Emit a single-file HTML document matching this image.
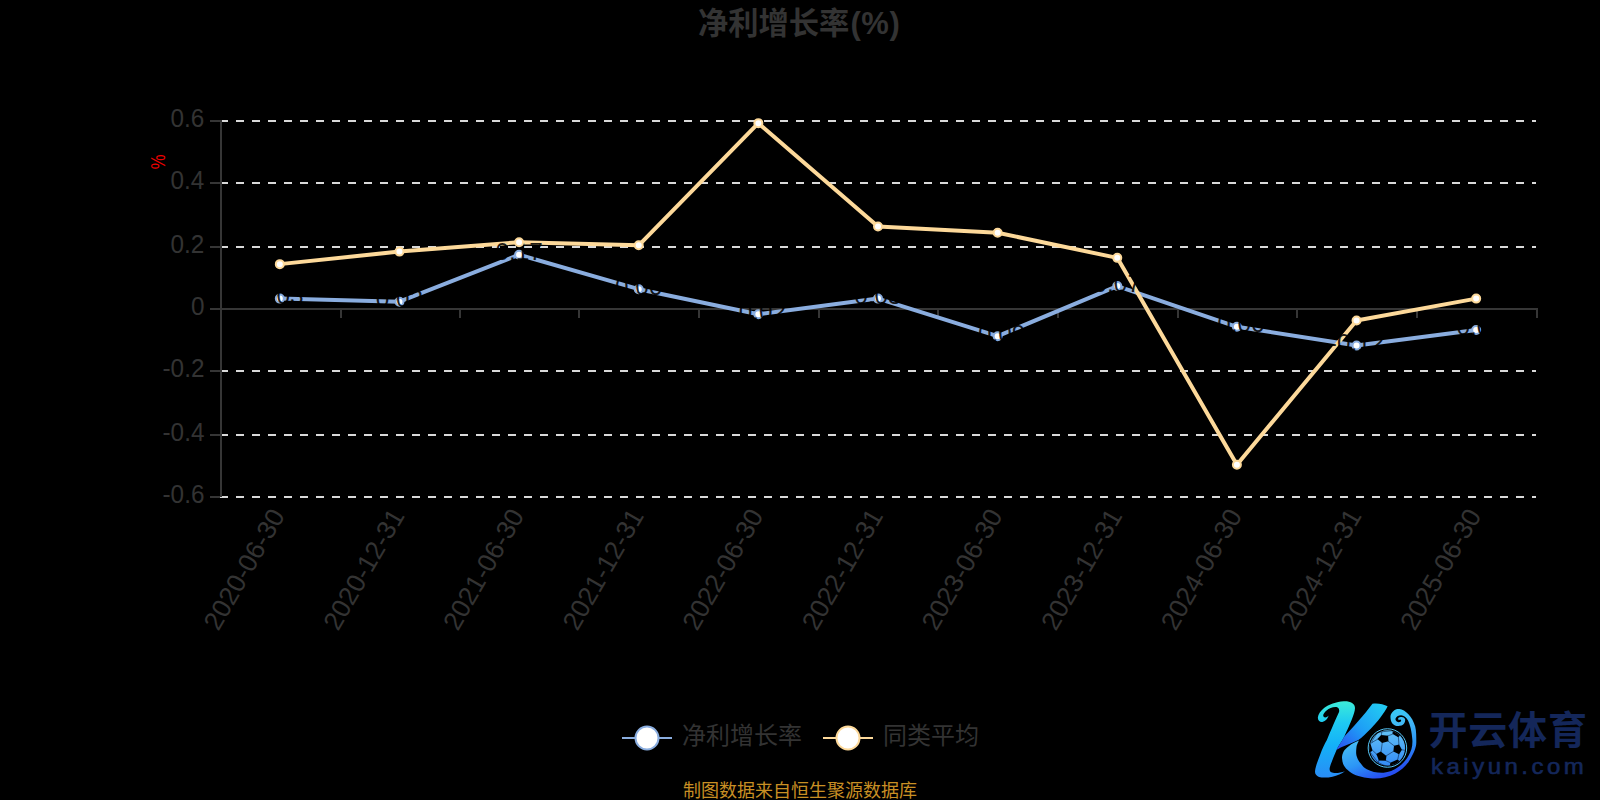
<!DOCTYPE html>
<html lang="zh-CN"><head><meta charset="utf-8"><title>净利增长率(%)</title>
<style>
html,body{margin:0;padding:0;background:#000;}
body{width:1600px;height:800px;overflow:hidden;}
svg{display:block;}
text{font-family:"Liberation Sans","Noto Sans CJK SC",sans-serif;}
</style></head><body>
<svg width="1600" height="800" viewBox="0 0 1600 800">
<rect width="1600" height="800" fill="#000"/>

<text x="799.2" y="33.7" text-anchor="middle" font-size="30.3" font-weight="bold" fill="#333333">净利增长率<tspan font-size="31" dx="1" letter-spacing="0.6">(%)</tspan></text>
<line x1="220" y1="121.00" x2="1536" y2="121.00" stroke="#d9d9d9" stroke-width="2" stroke-dasharray="8 8"/>
<line x1="210" y1="121.00" x2="220" y2="121.00" stroke="#363636" stroke-width="2"/>
<text transform="translate(204.4,127.00) scale(0.98,1.07)" text-anchor="end" font-size="24.8" fill="#333333">0.6</text>
<line x1="220" y1="183.00" x2="1536" y2="183.00" stroke="#d9d9d9" stroke-width="2" stroke-dasharray="8 8"/>
<line x1="210" y1="183.00" x2="220" y2="183.00" stroke="#363636" stroke-width="2"/>
<text transform="translate(204.4,189.00) scale(0.98,1.07)" text-anchor="end" font-size="24.8" fill="#333333">0.4</text>
<line x1="220" y1="247.00" x2="1536" y2="247.00" stroke="#d9d9d9" stroke-width="2" stroke-dasharray="8 8"/>
<line x1="210" y1="247.00" x2="220" y2="247.00" stroke="#363636" stroke-width="2"/>
<text transform="translate(204.4,253.00) scale(0.98,1.07)" text-anchor="end" font-size="24.8" fill="#333333">0.2</text>
<line x1="210" y1="309.00" x2="220" y2="309.00" stroke="#363636" stroke-width="2"/>
<text transform="translate(204.4,315.00) scale(0.98,1.07)" text-anchor="end" font-size="24.8" fill="#333333">0</text>
<line x1="220" y1="371.00" x2="1536" y2="371.00" stroke="#d9d9d9" stroke-width="2" stroke-dasharray="8 8"/>
<line x1="210" y1="371.00" x2="220" y2="371.00" stroke="#363636" stroke-width="2"/>
<text transform="translate(204.4,377.00) scale(0.98,1.07)" text-anchor="end" font-size="24.8" fill="#333333">-0.2</text>
<line x1="220" y1="435.00" x2="1536" y2="435.00" stroke="#d9d9d9" stroke-width="2" stroke-dasharray="8 8"/>
<line x1="210" y1="435.00" x2="220" y2="435.00" stroke="#363636" stroke-width="2"/>
<text transform="translate(204.4,441.00) scale(0.98,1.07)" text-anchor="end" font-size="24.8" fill="#333333">-0.4</text>
<line x1="220" y1="497.00" x2="1536" y2="497.00" stroke="#d9d9d9" stroke-width="2" stroke-dasharray="8 8"/>
<line x1="210" y1="497.00" x2="220" y2="497.00" stroke="#363636" stroke-width="2"/>
<text transform="translate(204.4,503.00) scale(0.98,1.07)" text-anchor="end" font-size="24.8" fill="#333333">-0.6</text>
<line x1="221" y1="120" x2="221" y2="497" stroke="#363636" stroke-width="2"/>
<line x1="220" y1="309.00" x2="1538" y2="309.00" stroke="#363636" stroke-width="2"/>
<line x1="341.00" y1="308" x2="341.00" y2="318" stroke="#363636" stroke-width="2"/>
<line x1="460.00" y1="308" x2="460.00" y2="318" stroke="#363636" stroke-width="2"/>
<line x1="579.00" y1="308" x2="579.00" y2="318" stroke="#363636" stroke-width="2"/>
<line x1="699.00" y1="308" x2="699.00" y2="318" stroke="#363636" stroke-width="2"/>
<line x1="819.00" y1="308" x2="819.00" y2="318" stroke="#363636" stroke-width="2"/>
<line x1="938.00" y1="308" x2="938.00" y2="318" stroke="#363636" stroke-width="2"/>
<line x1="1058.00" y1="308" x2="1058.00" y2="318" stroke="#363636" stroke-width="2"/>
<line x1="1178.00" y1="308" x2="1178.00" y2="318" stroke="#363636" stroke-width="2"/>
<line x1="1297.00" y1="308" x2="1297.00" y2="318" stroke="#363636" stroke-width="2"/>
<line x1="1417.00" y1="308" x2="1417.00" y2="318" stroke="#363636" stroke-width="2"/>
<line x1="1537.00" y1="308" x2="1537.00" y2="318" stroke="#363636" stroke-width="2"/>
<text transform="translate(165,162) rotate(-90) scale(1,1.18)" text-anchor="middle" font-size="16.6" fill="#f00000">%</text>
<text transform="translate(277.82,511) rotate(-60)" text-anchor="end" dominant-baseline="central" font-size="26.3" fill="#333333">2020-06-30</text>
<text transform="translate(397.45,511) rotate(-60)" text-anchor="end" dominant-baseline="central" font-size="26.3" fill="#333333">2020-12-31</text>
<text transform="translate(517.09,511) rotate(-60)" text-anchor="end" dominant-baseline="central" font-size="26.3" fill="#333333">2021-06-30</text>
<text transform="translate(636.73,511) rotate(-60)" text-anchor="end" dominant-baseline="central" font-size="26.3" fill="#333333">2021-12-31</text>
<text transform="translate(756.36,511) rotate(-60)" text-anchor="end" dominant-baseline="central" font-size="26.3" fill="#333333">2022-06-30</text>
<text transform="translate(876.00,511) rotate(-60)" text-anchor="end" dominant-baseline="central" font-size="26.3" fill="#333333">2022-12-31</text>
<text transform="translate(995.64,511) rotate(-60)" text-anchor="end" dominant-baseline="central" font-size="26.3" fill="#333333">2023-06-30</text>
<text transform="translate(1115.27,511) rotate(-60)" text-anchor="end" dominant-baseline="central" font-size="26.3" fill="#333333">2023-12-31</text>
<text transform="translate(1234.91,511) rotate(-60)" text-anchor="end" dominant-baseline="central" font-size="26.3" fill="#333333">2024-06-30</text>
<text transform="translate(1354.55,511) rotate(-60)" text-anchor="end" dominant-baseline="central" font-size="26.3" fill="#333333">2024-12-31</text>
<text transform="translate(1474.18,511) rotate(-60)" text-anchor="end" dominant-baseline="central" font-size="26.3" fill="#333333">2025-06-30</text>
<polyline points="279.82,298.60 399.45,301.73 519.09,254.73 638.73,289.20 758.36,314.27 878.00,298.60 997.64,336.20 1117.27,286.07 1236.91,326.80 1356.55,345.60 1476.18,329.93" fill="none" stroke="#8aaddf" stroke-width="4" stroke-linejoin="bevel"/>
<polyline points="279.82,264.13 399.45,251.60 519.09,242.20 638.73,245.33 758.36,123.13 878.00,226.53 997.64,232.80 1117.27,257.87 1236.91,464.67 1356.55,320.53 1476.18,298.60" fill="none" stroke="#fdd99a" stroke-width="4" stroke-linejoin="bevel"/>
<circle cx="279.82" cy="298.60" r="4" fill="#fff" stroke="#8aaddf" stroke-width="2"/>
<circle cx="399.45" cy="301.73" r="4" fill="#fff" stroke="#8aaddf" stroke-width="2"/>
<circle cx="519.09" cy="254.73" r="4" fill="#fff" stroke="#8aaddf" stroke-width="2"/>
<circle cx="638.73" cy="289.20" r="4" fill="#fff" stroke="#8aaddf" stroke-width="2"/>
<circle cx="758.36" cy="314.27" r="4" fill="#fff" stroke="#8aaddf" stroke-width="2"/>
<circle cx="878.00" cy="298.60" r="4" fill="#fff" stroke="#8aaddf" stroke-width="2"/>
<circle cx="997.64" cy="336.20" r="4" fill="#fff" stroke="#8aaddf" stroke-width="2"/>
<circle cx="1117.27" cy="286.07" r="4" fill="#fff" stroke="#8aaddf" stroke-width="2"/>
<circle cx="1236.91" cy="326.80" r="4" fill="#fff" stroke="#8aaddf" stroke-width="2"/>
<circle cx="1356.55" cy="345.60" r="4" fill="#fff" stroke="#8aaddf" stroke-width="2"/>
<circle cx="1476.18" cy="329.93" r="4" fill="#fff" stroke="#8aaddf" stroke-width="2"/>
<text x="279.82" y="304.10" text-anchor="middle" font-size="24.3" fill="#000" fill-opacity="0.88">0.03</text>
<text x="399.45" y="307.23" text-anchor="middle" font-size="24.3" fill="#000" fill-opacity="0.88">0.02</text>
<text x="519.09" y="260.23" text-anchor="middle" font-size="24.3" fill="#000" fill-opacity="0.88">0.17</text>
<text x="638.73" y="294.70" text-anchor="middle" font-size="24.3" fill="#000" fill-opacity="0.88">0.06</text>
<text x="758.36" y="319.77" text-anchor="middle" font-size="24.3" fill="#000" fill-opacity="0.88">-0.02</text>
<text x="878.00" y="304.10" text-anchor="middle" font-size="24.3" fill="#000" fill-opacity="0.88">0.03</text>
<text x="997.64" y="341.70" text-anchor="middle" font-size="24.3" fill="#000" fill-opacity="0.88">-0.09</text>
<text x="1117.27" y="291.57" text-anchor="middle" font-size="24.3" fill="#000" fill-opacity="0.88">0.07</text>
<text x="1236.91" y="332.30" text-anchor="middle" font-size="24.3" fill="#000" fill-opacity="0.88">-0.06</text>
<text x="1356.55" y="351.10" text-anchor="middle" font-size="24.3" fill="#000" fill-opacity="0.88">-0.12</text>
<text x="1476.18" y="335.43" text-anchor="middle" font-size="24.3" fill="#000" fill-opacity="0.88">-0.07</text>
<circle cx="279.82" cy="264.13" r="4" fill="#fff" stroke="#fdd99a" stroke-width="2"/>
<circle cx="399.45" cy="251.60" r="4" fill="#fff" stroke="#fdd99a" stroke-width="2"/>
<circle cx="519.09" cy="242.20" r="4" fill="#fff" stroke="#fdd99a" stroke-width="2"/>
<circle cx="638.73" cy="245.33" r="4" fill="#fff" stroke="#fdd99a" stroke-width="2"/>
<circle cx="758.36" cy="123.13" r="4" fill="#fff" stroke="#fdd99a" stroke-width="2"/>
<circle cx="878.00" cy="226.53" r="4" fill="#fff" stroke="#fdd99a" stroke-width="2"/>
<circle cx="997.64" cy="232.80" r="4" fill="#fff" stroke="#fdd99a" stroke-width="2"/>
<circle cx="1117.27" cy="257.87" r="4" fill="#fff" stroke="#fdd99a" stroke-width="2"/>
<circle cx="1236.91" cy="464.67" r="4" fill="#fff" stroke="#fdd99a" stroke-width="2"/>
<circle cx="1356.55" cy="320.53" r="4" fill="#fff" stroke="#fdd99a" stroke-width="2"/>
<circle cx="1476.18" cy="298.60" r="4" fill="#fff" stroke="#fdd99a" stroke-width="2"/>
<line x1="622" y1="738" x2="672" y2="738" stroke="#8aaddf" stroke-width="2"/>
<circle cx="647" cy="738" r="11.5" fill="#fff" stroke="#8aaddf" stroke-width="2"/>
<text x="682" y="744.2" font-size="24" fill="#333333">净利增长率</text>
<line x1="823" y1="738" x2="873" y2="738" stroke="#fdd99a" stroke-width="2"/>
<circle cx="848" cy="738" r="11.5" fill="#fff" stroke="#fdd99a" stroke-width="2"/>
<text x="883" y="744.2" font-size="24" fill="#333333">同类平均</text>
<text x="800" y="796.9" text-anchor="middle" font-size="18" fill="#c88f24">制图数据来自恒生聚源数据库</text>
<defs>
<linearGradient id="kg" gradientUnits="userSpaceOnUse" x1="0" y1="55" x2="0" y2="740">
<stop offset="0" stop-color="#3cecd8"/><stop offset="0.28" stop-color="#1ecaf2"/><stop offset="0.58" stop-color="#14b0f8"/><stop offset="1" stop-color="#2a8cf6"/>
</linearGradient>
<linearGradient id="ag" gradientUnits="userSpaceOnUse" x1="620" y1="90" x2="250" y2="480">
<stop offset="0" stop-color="#22c8f2"/><stop offset="0.5" stop-color="#1e9ef6"/><stop offset="1" stop-color="#2a52f2"/>
</linearGradient>
<linearGradient id="sg" gradientUnits="userSpaceOnUse" x1="0" y1="0" x2="370" y2="930">
<stop offset="0.40" stop-color="#38caf6"/><stop offset="0.55" stop-color="#42b8f6"/><stop offset="0.73" stop-color="#2c96f6"/><stop offset="0.91" stop-color="#264ef0"/>
</linearGradient>
<linearGradient id="bg" gradientUnits="userSpaceOnUse" x1="0" y1="90" x2="0" y2="710">
<stop offset="0" stop-color="#62c2f6"/><stop offset="1" stop-color="#348af6"/>
</linearGradient>
<clipPath id="bc"><circle cx="390" cy="400" r="308"/></clipPath>
</defs>
<g transform="translate(1310,695) scale(0.1125)">
<path fill="url(#kg)" d="M165,182 C160,205 140,235 110,239 C85,242 68,222 70,198 C72,170 95,140 125,115 C165,85 235,58 300,55 C355,52 400,72 400,115 C400,165 350,270 305,368 C285,410 255,445 235,490 C215,535 185,610 176,645 C170,675 180,690 215,693 C245,695 285,688 310,677 C285,698 240,718 200,726 C160,735 110,738 80,728 C55,718 42,700 45,675 C48,640 70,580 90,530 C110,475 130,435 150,400 C170,350 215,245 258,150 C262,135 258,115 245,110 C215,100 170,118 150,135 C130,152 115,170 118,185 C120,200 135,203 150,196 C158,192 162,188 165,182 Z"/>
<path fill="url(#ag)" d="M235,487 C250,455 285,410 305,368 C380,290 480,180 555,78 C600,70 655,82 690,100 C660,160 600,240 540,300 C500,340 460,380 430,400 C390,420 350,435 310,450 C280,462 255,475 235,487 Z"/>
<path fill="url(#sg)" d="M435,405 C400,420 370,435 350,450 C325,470 308,485 300,500 C288,525 283,545 285,565 C287,590 292,610 300,625 C312,648 330,665 350,680 C375,700 400,712 430,720 C465,730 500,737 533,740 C600,750 690,735 755,700 C810,672 860,625 885,580 C920,525 945,470 945,420 C945,370 945,320 935,280 C922,235 900,195 875,170 C850,145 820,128 795,125 C775,123 755,128 745,140 C728,155 715,172 715,190 C715,212 720,235 730,250 C745,268 765,275 785,275 C805,275 825,268 835,255 C845,243 848,228 845,215 C840,202 828,195 815,195 C803,195 790,198 785,205 C782,212 785,220 790,225 C795,215 808,215 810,225 C812,238 795,245 780,240 C765,235 758,225 760,212 C763,195 785,180 810,180 C835,182 855,200 870,225 C890,260 905,330 910,400 C913,460 900,500 875,540 C850,585 820,615 785,640 C745,668 700,688 655,690 C600,692 550,685 505,660 C485,648 470,635 460,620 C440,595 430,580 425,570 C415,545 410,530 410,510 C410,485 413,465 415,450 C420,435 428,418 435,405 Z"/>
<g transform="translate(488.9,266.7) scale(0.5111)">
<circle cx="390" cy="400" r="335" fill="none" stroke="#58ccff" stroke-width="17"/>
<circle cx="390" cy="400" r="308" fill="url(#bg)"/>
<g clip-path="url(#bc)">
<g fill="#000">
<path d="M215,245 L281,172 L402,185 L408,284 L298,315 Z"/>
<path d="M504,360 L592,338 L642,431 L592,508 L494,459 Z"/>
<path d="M197,506 L274,462 L373,539 L362,622 L241,618 Z"/>
<path d="M485,95 L482,158 L578,212 L605,185 L660,150 L560,70 Z"/>
<path d="M440,655 L565,600 L615,640 L540,730 L430,720 Z"/>
<path d="M60,330 L95,325 L130,440 L95,480 L50,420 Z"/>
</g>
<g fill="none" stroke="#03122e" stroke-width="9" stroke-linecap="round">
<path d="M225,245 L125,300 L95,325 M285,178 L292,118 L470,100 M395,190 L480,160 L490,112 M400,280 L510,365 M300,308 L280,465 M500,455 L370,535 M590,345 L580,200 L585,170 M635,430 L705,442 M590,500 L570,598 M355,615 L440,655 M245,612 L225,650 M205,510 L130,440 M125,300 L120,280 L220,130 L292,118 M705,442 L700,300 L640,150 M705,442 L690,560 L615,640 M225,650 L330,700 L430,720 M95,480 L225,650"/>
</g>
</g>
</g>
</g>
<text x="1428.5" y="743.5" font-size="39" font-weight="bold" letter-spacing="0.8" fill="#14275a">开云体育</text>
<text transform="translate(1431,773.7) scale(1.116,1)" font-size="21.5" letter-spacing="3.14" fill="#14275a" stroke="#14275a" stroke-width="0.6">kaiyun.com</text>

</svg></body></html>
